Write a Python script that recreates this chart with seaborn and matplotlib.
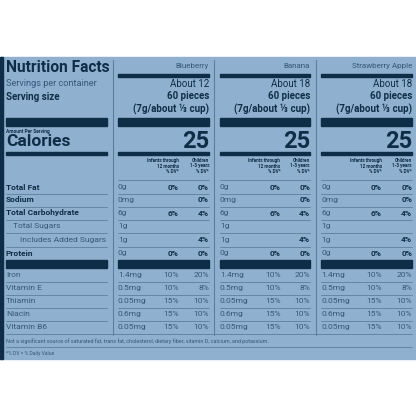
import matplotlib
matplotlib.use("Agg")
import matplotlib.pyplot as plt
import seaborn as sns

# data
flavors = ["Blueberry", "Banana", "Strawberry Apple"]
servings = ["About 12", "About 18", "About 18"]
nutrients = ["Total Fat", "Sodium", "Total Carbohydrate", "Total Sugars",
             "Includes Added Sugars", "Protein"]
nutrient_bold = [True, True, True, False, False, True]
nutrient_indent = [0, 0, 0, 1, 2, 0]
amounts = ["0g", "0mg", "6g", "1g", "1g", "0g"]
dv_infant = ["0%", "", "6%", "", "", "0%"]
dv_child = ["0%", "0%", "4%", "", "4%", "0%"]
vitamins = ["Iron", "Vitamin E", "Thiamin", "Niacin", "Vitamin B6"]
vit_amounts = ["1.4mg", "0.5mg", "0.05mg", "0.6mg", "0.05mg"]
vit_infant = ["10%", "10%", "15%", "15%", "15%"]
vit_child = ["20%", "8%", "10%", "10%", "10%"]
calories = 25

sns.set_theme(style="white")
plt.rcParams['font.family'] = ['Roboto', 'DejaVu Sans']

BG = "#8fb1cf"
NAVY = "#0e2d47"
SOFT = "#36587a"
LINE = "#5e7f9c"

fig = plt.figure(figsize=(4.16, 4.16), dpi=100)
ax = fig.add_axes([0, 0, 1, 1])
ax.set_xlim(0, 416)
ax.set_ylim(416, 0)
ax.axis("off")
ax.add_patch(plt.Rectangle((0, 57), 416, 302, color=BG, zorder=0))
ax.add_patch(plt.Rectangle((0, 57), 3, 302, color=NAVY, zorder=1))

left = (6, 107)
cols = [(118, 209), (220, 310), (321, 412)]
for xd in (113, 214, 316):
    ax.plot([xd, xd], [60, 335], color=LINE, lw=0.8)

def bar(x0, x1, y, h):
    ax.add_patch(plt.Rectangle((x0, y), x1 - x0, h, color=NAVY, zorder=2))

def hline(x0, x1, y):
    ax.plot([x0, x1], [y, y], color=LINE, lw=0.6)

ax.text(left[0], 68, "Nutrition Facts", fontsize=11.2, weight="bold", color=NAVY, va="center")
ax.text(left[0], 84, "Servings per container", fontsize=6.6, color=SOFT, va="center")
ax.text(left[0], 97, "Serving size", fontsize=7, weight="bold", color=NAVY, va="center")
bar(left[0], left[1], 118, 8)
ax.text(left[0], 131, "Amount Per Serving", fontsize=3.5, weight="bold", color=NAVY, va="center")
ax.text(left[0], 142, "Calories", fontsize=12.5, weight="bold", color=NAVY, va="center")
bar(left[0], left[1], 152, 3)

row_y = [187, 200, 213, 226, 240, 253]
for i, name in enumerate(nutrients):
    ax.text(left[0] + nutrient_indent[i] * 7, row_y[i], name, fontsize=6,
            weight="bold" if nutrient_bold[i] else "normal",
            color=NAVY if nutrient_bold[i] else SOFT, va="center")
    hline(left[0], left[1], row_y[i] + 6.5)
bar(left[0], left[1], 260, 8)
vit_y = [275, 288, 301, 314, 327]
for i, name in enumerate(vitamins):
    ax.text(left[0], vit_y[i], name, fontsize=6, color=SOFT, va="center")
    if i < len(vitamins) - 1:
        hline(left[0], left[1], vit_y[i] + 6.5)

for c, (x0, x1) in enumerate(cols):
    ax.text(x1, 66, flavors[c], fontsize=5.8, color=SOFT, ha="right", va="center")
    bar(x0, x1, 74, 3)
    ax.text(x1, 84, servings[c], fontsize=7, color=NAVY, ha="right", va="center")
    ax.text(x1, 96, "60 pieces", fontsize=7, weight="bold", color=NAVY, ha="right", va="center")
    ax.text(x1, 109, "(7g/about \u2153 cup)", fontsize=7, weight="bold", color=NAVY, ha="right", va="center")
    bar(x0, x1, 118, 8)
    ax.text(x1, 141, str(calories), fontsize=17, weight="bold", color=NAVY, ha="right", va="center")
    bar(x0, x1, 152, 3)
    xm = x0 + 0.67 * (x1 - x0)
    ax.text(xm, 166, "Infants through\n12 months\n% DV*", fontsize=3.3, weight="bold",
            color=NAVY, ha="right", va="center", multialignment="right", linespacing=1.1)
    ax.text(x1, 166, "Children\n1-3 years\n% DV*", fontsize=3.3, weight="bold",
            color=NAVY, ha="right", va="center", multialignment="right", linespacing=1.1)
    hline(x0, x1, 180)
    for i in range(len(nutrients)):
        ax.text(x0, row_y[i], amounts[i], fontsize=6, color=SOFT, va="center")
        ax.text(xm, row_y[i], dv_infant[i], fontsize=6, weight="bold", color=NAVY, ha="right", va="center")
        ax.text(x1, row_y[i], dv_child[i], fontsize=6, weight="bold", color=NAVY, ha="right", va="center")
        hline(x0, x1, row_y[i] + 6.5)
    bar(x0, x1, 260, 8)
    for i in range(len(vitamins)):
        ax.text(x0, vit_y[i], vit_amounts[i], fontsize=6, color=SOFT, va="center")
        ax.text(xm, vit_y[i], vit_infant[i], fontsize=6, color=SOFT, ha="right", va="center")
        ax.text(x1, vit_y[i], vit_child[i], fontsize=6, color=SOFT, ha="right", va="center")
        if i < len(vitamins) - 1:
            hline(x0, x1, vit_y[i] + 6.5)

hline(left[0], 412, 334)
ax.text(left[0], 341, "Not a significant source of saturated fat, trans fat, cholesterol, dietary fiber, "
        "vitamin D, calcium, and potassium.", fontsize=3.9, color=SOFT, va="center")
hline(left[0], 412, 347)
ax.text(left[0], 353, "*% DV = % Daily Value", fontsize=3.6, color=SOFT, va="center")

fig.savefig("out.png", dpi=100)
